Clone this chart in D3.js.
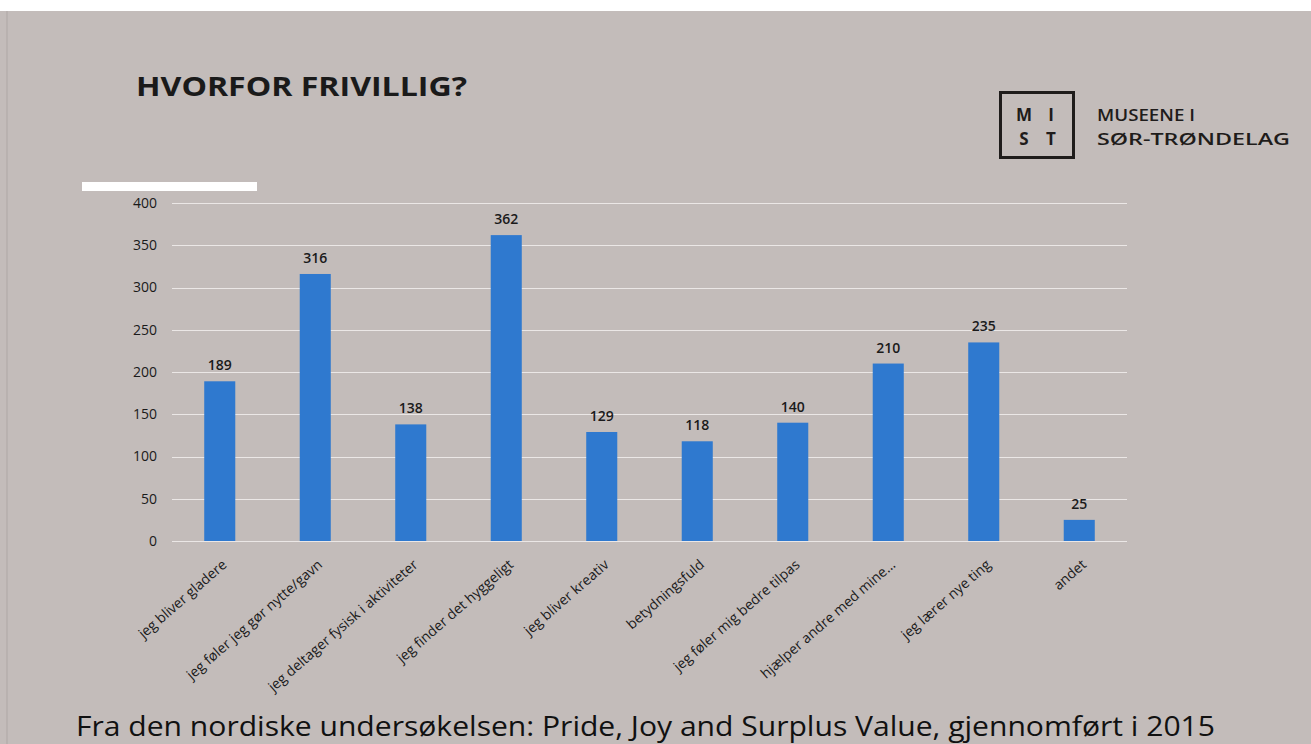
<!DOCTYPE html>
<html>
<head>
<meta charset="utf-8">
<script src="https://cdn.jsdelivr.net/npm/d3@7"></script>
<style>
  body { margin: 0; background: #fff; }
  svg { display: block; font-family: "Open Sans", "Noto Sans", sans-serif; }
</style>
</head>
<body>
<svg id="chart" width="1311" height="744"></svg>
<script>
var categories = [
  'jeg bliver gladere',
  'jeg føler jeg gør nytte/gavn',
  'jeg deltager fysisk i aktiviteter',
  'jeg finder det hyggeligt',
  'jeg bliver kreativ',
  'betydningsfuld',
  'jeg føler mig bedre tilpas',
  'hjælper andre med mine...',
  'jeg lærer nye ting',
  'andet'
];
var values = [189, 316, 138, 362, 129, 118, 140, 210, 235, 25];
var yTicks = [0, 50, 100, 150, 200, 250, 300, 350, 400];

var svg = d3.select('#chart');

// slide background
svg.append('rect')
  .attr('x', 0).attr('y', 11)
  .attr('width', 1311).attr('height', 733)
  .attr('fill', '#c3bcba');
svg.append('line')
  .attr('x1', 7).attr('x2', 7).attr('y1', 11).attr('y2', 744)
  .attr('stroke', '#aea7a5').attr('stroke-width', 1);

// title
svg.append('text')
  .attr('x', 136).attr('y', 96)
  .attr('font-size', 27).attr('font-weight', 'bold')
  .attr('fill', '#1a1a1a')
  .attr('textLength', 331).attr('lengthAdjust', 'spacingAndGlyphs')
  .text('HVORFOR FRIVILLIG?');

// logo
var logo = svg.append('g').attr('fill', '#1f1c1b');
logo.append('rect')
  .attr('x', 1000.5).attr('y', 92.5).attr('width', 73).attr('height', 65)
  .attr('fill', 'none').attr('stroke', '#1f1c1b').attr('stroke-width', 3);
[['M', 1024, 121], ['I', 1051, 121], ['S', 1024, 145], ['T', 1051, 145]].forEach(function(l) {
  logo.append('text')
    .attr('x', l[1]).attr('y', l[2])
    .attr('text-anchor', 'middle')
    .attr('font-size', 17).attr('font-weight', 'bold')
    .text(l[0]);
});
logo.append('text')
  .attr('x', 1097).attr('y', 121)
  .attr('font-size', 17).attr('font-weight', 600)
  .attr('textLength', 98).attr('lengthAdjust', 'spacingAndGlyphs')
  .text('MUSEENE I');
logo.append('text')
  .attr('x', 1097).attr('y', 145)
  .attr('font-size', 17).attr('font-weight', 600)
  .attr('textLength', 193).attr('lengthAdjust', 'spacingAndGlyphs')
  .text('SØR-TRØNDELAG');

// white bar over the axis
svg.append('rect')
  .attr('x', 82).attr('y', 182).attr('width', 175).attr('height', 9)
  .attr('fill', '#ffffff');

var x = d3.scaleBand()
  .domain(categories)
  .range([172, 1127])
  .paddingInner(0.675)
  .paddingOuter(0.3375);

var y = d3.scaleLinear()
  .domain([0, 400])
  .range([541, 203]);

// gridlines
svg.append('g')
  .selectAll('line')
  .data(yTicks)
  .enter().append('line')
  .attr('x1', 172).attr('x2', 1127)
  .attr('y1', function(d) { return Math.round(y(d)) + 0.5; })
  .attr('y2', function(d) { return Math.round(y(d)) + 0.5; })
  .attr('stroke', '#ebe7e6').attr('stroke-width', 1.2);

// y axis labels
var yAxis = svg.append('g')
  .attr('transform', 'translate(157,0)')
  .call(d3.axisLeft(y).tickValues(yTicks).tickSize(0).tickPadding(0));
yAxis.select('.domain').remove();
yAxis.selectAll('text')
  .attr('font-size', 14).attr('fill', '#1a1a1a')
  .attr('font-family', '"Open Sans", sans-serif');

// bars
svg.append('g')
  .selectAll('rect')
  .data(values)
  .enter().append('rect')
  .attr('x', function(d, i) { return x(categories[i]); })
  .attr('y', function(d) { return y(d); })
  .attr('width', x.bandwidth())
  .attr('height', function(d) { return y(0) - y(d); })
  .attr('fill', '#2f79cf');

// value labels
svg.append('g')
  .selectAll('text')
  .data(values)
  .enter().append('text')
  .attr('x', function(d, i) { return x(categories[i]) + x.bandwidth() / 2; })
  .attr('y', function(d) { return y(d) - 11; })
  .attr('text-anchor', 'middle')
  .attr('font-size', 14).attr('font-weight', 600)
  .attr('fill', '#1a1a1a')
  .text(function(d) { return d; });

// x axis labels, rotated
var xAxis = svg.append('g')
  .attr('transform', 'translate(0,' + y(0) + ')')
  .call(d3.axisBottom(x).tickSize(0).tickPadding(0));
xAxis.select('.domain').remove();
xAxis.selectAll('text')
  .attr('font-size', 14).attr('fill', '#1a1a1a')
  .attr('font-family', '"Open Sans", sans-serif')
  .attr('text-anchor', 'end')
  .attr('dy', 0)
  .attr('transform', 'translate(8,25) rotate(-41)');

// footer
svg.append('text')
  .attr('x', 76).attr('y', 736)
  .attr('font-size', 28)
  .attr('fill', '#111')
  .attr('textLength', 1139).attr('lengthAdjust', 'spacingAndGlyphs')
  .text('Fra den nordiske undersøkelsen: Pride, Joy and Surplus Value, gjennomført i 2015');
</script>
</body>
</html>
